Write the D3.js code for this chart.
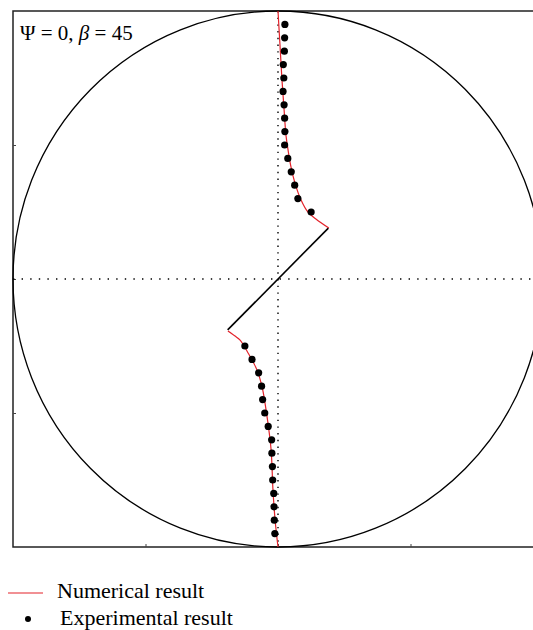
<!DOCTYPE html>
<html>
<head>
<meta charset="utf-8">
<script src="https://cdn.jsdelivr.net/npm/d3@7"></script>
<style>
  body { margin: 0; background: #fff; }
  text { font-family: "Liberation Serif", "DejaVu Serif", serif; }
</style>
</head>
<body>
<div id="chart"></div>
<script>
// numerical result (red), upper and lower branch, in unit-circle coords
const numUpperX = [0, 0.0075, 0.015, 0.023, 0.030, 0.038, 0.049, 0.064, 0.087, 0.113, 0.143, 0.192]
const numUpperY = [1.0, 0.873, 0.743, 0.631, 0.537, 0.481, 0.418, 0.358, 0.295, 0.250, 0.224, 0.190]
const numLowerX = [-0.189, -0.162, -0.143, -0.113, -0.079, -0.060, -0.049, -0.038, -0.026, -0.019, -0.011, 0]
const numLowerY = [-0.194, -0.213, -0.228, -0.276, -0.340, -0.403, -0.463, -0.537, -0.638, -0.787, -0.899, -1.0]

// experimental result (black dots)
const expUpperX = [0.026, 0.025, 0.024, 0.020, 0.022, 0.019, 0.023, 0.025, 0.026, 0.025, 0.037, 0.050, 0.063, 0.075, 0.125]
const expUpperY = [0.95, 0.90, 0.85, 0.80, 0.75, 0.70, 0.65, 0.60, 0.55, 0.50, 0.45, 0.40, 0.35, 0.30, 0.25]
const expLowerX = [-0.125, -0.098, -0.073, -0.062, -0.058, -0.050, -0.037, -0.024, -0.023, -0.021, -0.020, -0.016, -0.015, -0.014, -0.012]
const expLowerY = [-0.25, -0.30, -0.35, -0.40, -0.45, -0.50, -0.55, -0.60, -0.65, -0.70, -0.75, -0.80, -0.85, -0.90, -0.95]

// black segment through the centre
const segX = [-0.19, 0.19]
const segY = [-0.19, 0.19]

const tickVals = [-0.5, 0, 0.5]

const width = 533, height = 630
const xScale = d3.scaleLinear().domain([-1, 1]).range([13, 543])
const yScale = d3.scaleLinear().domain([-1, 1]).range([547, 11])

const svg = d3.select('#chart').append('svg')
  .attr('width', width)
  .attr('height', height)

const zip = (xs, ys) => xs.map((d, i) => [d, ys[i]])

// frame
svg.append('rect')
  .attr('x', xScale(-1))
  .attr('y', yScale(1))
  .attr('width', xScale(1) - xScale(-1))
  .attr('height', yScale(-1) - yScale(1))
  .attr('fill', 'none')
  .attr('stroke', '#222')
  .attr('stroke-width', 1.5)

// small inward ticks
const xAxis = d3.axisTop(xScale).tickValues(tickVals).tickSize(3).tickFormat('')
svg.append('g')
  .attr('transform', `translate(0, ${yScale(-1)})`)
  .call(xAxis)
  .call(g => g.select('.domain').remove())
  .selectAll('line').attr('stroke', '#444')

const yAxis = d3.axisRight(yScale).tickValues(tickVals).tickSize(3).tickFormat('')
svg.append('g')
  .attr('transform', `translate(${xScale(-1)}, 0)`)
  .call(yAxis)
  .call(g => g.select('.domain').remove())
  .selectAll('line').attr('stroke', '#444')

// dotted centre lines
svg.append('line')
  .attr('x1', xScale(-1)).attr('x2', xScale(1))
  .attr('y1', yScale(0)).attr('y2', yScale(0))
  .attr('stroke', '#000').attr('stroke-width', 1.4)
  .attr('stroke-dasharray', '1.4,7.2')

svg.append('line')
  .attr('x1', xScale(0)).attr('x2', xScale(0))
  .attr('y1', yScale(1)).attr('y2', yScale(-1))
  .attr('stroke', '#000').attr('stroke-width', 1.4)
  .attr('stroke-dasharray', '1.4,5.3')

// unit circle
svg.append('ellipse')
  .attr('cx', xScale(0))
  .attr('cy', yScale(0))
  .attr('rx', xScale(1) - xScale(0))
  .attr('ry', yScale(-1) - yScale(0))
  .attr('fill', 'none')
  .attr('stroke', '#000')
  .attr('stroke-width', 1.3)

const line = d3.line()
  .x(d => xScale(d[0]))
  .y(d => yScale(d[1]))
  .curve(d3.curveCatmullRom)

// black segment
svg.append('path')
  .datum(zip(segX, segY))
  .attr('d', line)
  .attr('fill', 'none')
  .attr('stroke', '#000')
  .attr('stroke-width', 1.6)

// numerical curves
;[zip(numUpperX, numUpperY), zip(numLowerX, numLowerY)].forEach(pts => {
  svg.append('path')
    .datum(pts)
    .attr('d', line)
    .attr('fill', 'none')
    .attr('stroke', '#e3232b')
    .attr('stroke-width', 1.2)
})

// experimental dots
const dots = zip(expUpperX, expUpperY).concat(zip(expLowerX, expLowerY))
svg.selectAll('circle.exp')
  .data(dots)
  .enter()
  .append('circle')
  .attr('class', 'exp')
  .attr('cx', d => xScale(d[0]))
  .attr('cy', d => yScale(d[1]))
  .attr('r', 3.6)
  .attr('fill', '#000')

// label
const label = svg.append('text')
  .attr('x', 20)
  .attr('y', 40)
  .style('font-size', '21px')
label.append('tspan').text('Ψ = 0, ')
label.append('tspan').style('font-style', 'italic').text('β')
label.append('tspan').text(' = 45')

// legend
svg.append('line')
  .attr('x1', 8).attr('x2', 43)
  .attr('y1', 593).attr('y2', 593)
  .attr('stroke', '#e3232b').attr('stroke-width', 1.2)
svg.append('text')
  .attr('x', 57).attr('y', 598)
  .style('font-size', '22px')
  .text('Numerical result')

svg.append('circle')
  .attr('cx', 28).attr('cy', 619)
  .attr('r', 3)
  .attr('fill', '#000')
svg.append('text')
  .attr('x', 60).attr('y', 625)
  .style('font-size', '22px')
  .text('Experimental result')
</script>
</body>
</html>
